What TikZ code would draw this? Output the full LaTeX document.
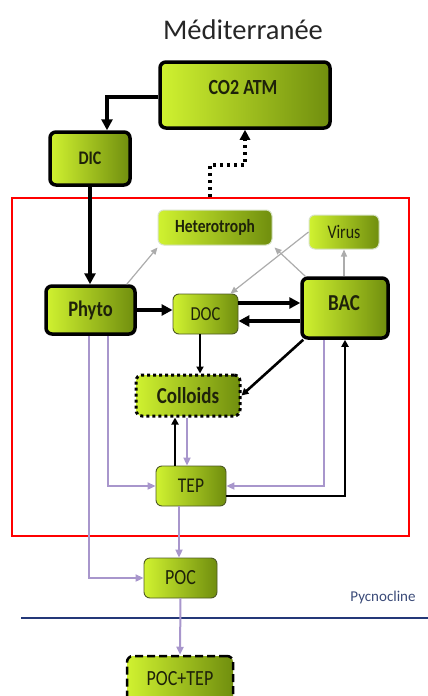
\documentclass[tikz,border=0pt]{standalone}
\usepackage{fontspec}
\setmainfont{Carlito}
\usetikzlibrary{arrows.meta}
\definecolor{gl}{RGB}{208,242,48}
\definecolor{gm}{RGB}{178,214,34}
\definecolor{gr}{RGB}{112,142,14}
\definecolor{pur}{RGB}{168,150,204}
\definecolor{thinb}{RGB}{78,90,36}
\definecolor{softb}{RGB}{214,226,196}
\definecolor{pyc}{RGB}{36,56,120}
\definecolor{pyctext}{RGB}{58,74,120}
\definecolor{txt}{RGB}{30,34,10}
\newcommand{\tallt}[1]{\scalebox{1}[1.2]{#1}}
\tikzset{
  gbox/.style={rectangle, rounded corners=6pt, left color=gl, middle color=gm, right color=gr, inner sep=0pt, align=center, text=txt},
  thickbox/.style={gbox, draw=black, line width=3.5pt},
  thinbox/.style={gbox, draw=thinb, line width=0.9pt},
  softbox/.style={gbox, draw=softb, line width=1pt},
  dotbox/.style={gbox, draw=black, line width=3pt, dash pattern=on 3pt off 3pt},
  dashbox/.style={gbox, draw=black, line width=2.5pt, dash pattern=on 8pt off 4pt},
  blk/.style={draw=black, line width=3.2pt, -{Triangle[length=11pt,width=11pt]}},
  blks/.style={draw=black, line width=2.6pt, -{Triangle[length=7pt,width=7pt]}},
  gry/.style={draw=gray!65, line width=1.2pt, -{Triangle[length=7pt,width=6pt]}},
  prp/.style={draw=pur, line width=2pt, -{Triangle[length=8pt,width=7pt]}},
  dotarrow/.style={draw=black, line width=3.5pt, dash pattern=on 3.5pt off 3.5pt, -{Triangle[length=10pt,width=10pt]}},
  fs/.style={font=\fontsize{#1}{#1}\selectfont},
  fsb/.style={font=\fontsize{#1}{#1}\selectfont\bfseries},
}
\begin{document}
\begin{tikzpicture}[x=1pt,y=-1pt]
\useasboundingbox (0,0) rectangle (428,696);
% title
\node[fs=28.5, text=black!85] (title) at (243,30) {Méditerranée};
% red zone
\node[draw=red, line width=2pt, minimum width=397pt, minimum height=338pt, inner sep=0pt] (zone) at (210.5,367) {};
% boxes
\node[thickbox, minimum width=170pt, minimum height=66pt] (co2) at (245,95) {};
\node[fsb=18, text=txt] (co2t) at (243,87) {\tallt{CO2 ATM}};
\node[thickbox, minimum width=80pt, minimum height=53pt, fsb=16] (dic) at (90,158.5) {\tallt{DIC}};
\node[softbox, minimum width=114pt, minimum height=35pt, fsb=15.5] (het) at (215,227.5) {\tallt{Heterotroph}};
\node[softbox, minimum width=70pt, minimum height=34pt, fs=16] (virus) at (344,232) {\tallt{Virus}};
\node[thickbox, minimum width=89pt, minimum height=48pt, fsb=18.5] (phyto) at (90.5,310) {\tallt{Phyto}};
\node[thinbox, minimum width=65pt, minimum height=40pt, fs=16.5] (doc) at (205.5,314) {\tallt{DOC}};
\node[thickbox, minimum width=86pt, minimum height=60pt] (bac) at (345,308) {};
\node[fsb=19, text=txt] (bact) at (344,303) {\tallt{BAC}};
\node[dotbox, minimum width=104pt, minimum height=41pt, fsb=19] (coll) at (188,395.5) {\tallt{Colloids}};
\node[thinbox, minimum width=70pt, minimum height=40pt, fs=17.5] (tep) at (191,486) {\tallt{TEP}};
\node[thinbox, minimum width=73pt, minimum height=40pt, fs=18] (poc) at (180.5,578) {\tallt{POC}};
\node[dashbox, minimum width=106pt, minimum height=46pt, fs=18] (poctep) at (180,679) {\tallt{POC+TEP}};
% pycnocline
\coordinate (pycL) at (21,618);
\coordinate (pycR) at (428,618);
\draw[pyc, line width=2pt] (pycL) -- (pycR);
\node[fs=15, text=pyctext] (pyct) at (383,597) {Pycnocline};
% arrows
\draw[blk] ([yshift=-2pt]co2.west) -| ([xshift=17pt]dic.north);
\draw[dotarrow] ([xshift=-0.5pt]zone.north) |- ([yshift=-35pt]co2.south) -- (co2.south);
\draw[blk] (dic.south) -- (dic.south |- phyto.north);
\draw[gry] ([xshift=-10pt]phyto.north east) -- ([yshift=-2pt]het.south west);
\draw[gry] ([xshift=5pt]bac.north west) -- ([xshift=2pt,yshift=-2pt]het.south east);
\draw[gry] (bac.north -| virus.south) -- (virus.south);
\draw[gry] (virus.west) -- ([xshift=-8pt]doc.north east);
\draw[blk] (phyto.east) -- ([yshift=4pt]doc.west);
\draw[blk] ([yshift=11pt]doc.east) -- ([yshift=5pt]bac.west);
\draw[blk] ([yshift=-13pt]bac.west) -- ([yshift=-7pt]doc.east);
\draw[blks] ([xshift=-5.5pt]doc.south) -- ([xshift=12pt]coll.north);
\draw[blks] ([xshift=3pt]bac.south west) -- (coll.east);
\draw[blks] ([xshift=-16pt]tep.north) -- ([xshift=-13pt]coll.south);
\draw[prp] ([xshift=-1pt]coll.south) -- ([xshift=-4pt]tep.north);
\draw[prp] ([xshift=17.5pt]phyto.south) |- (tep.west);
\draw[prp] ([xshift=-1.5pt]phyto.south) |- (poc.west);
\draw[prp] ([xshift=-21pt]bac.south) |- (tep.east);
\draw[blks] ([yshift=-10pt]tep.east) -| (bac.south);
\draw[prp] ([xshift=-12pt]tep.south) -- ([xshift=-1.5pt]poc.north);
\draw[prp] (poc.south) -- (poctep.north);
\end{tikzpicture}
\end{document}
